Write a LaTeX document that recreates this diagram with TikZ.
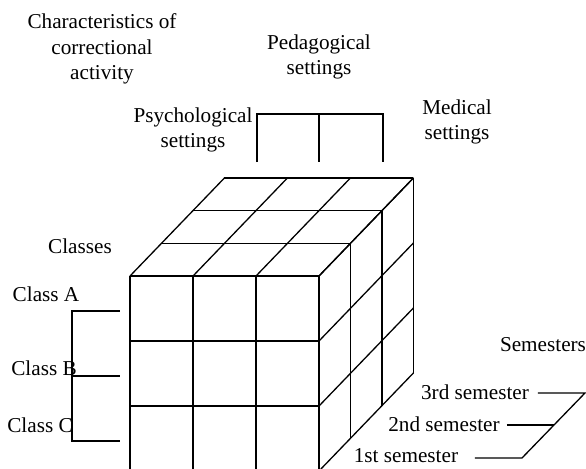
\documentclass[tikz,border=0pt]{standalone}
\usepackage{fontspec}
\setmainfont{Liberation Serif}

\begin{document}
\begin{tikzpicture}[x=0.5pt,y=-0.5pt,line width=0.65pt,
  lbl/.style={align=center,inner sep=0pt,font=\fontsize{10.6}{12.8}\selectfont}]
\useasboundingbox (0,0) rectangle (586,468);
\clip (0,0) rectangle (586,468);
% front face of the cube
\foreach \i in {0,...,3} {
  \draw (130+63*\i,276) -- (130+63*\i,471);
  \draw (130,276+65*\i) -- (319,276+65*\i);
}
% top face
\foreach \k in {0,...,3}
  \draw (130+31.5*\k,276-32.7*\k) -- (319+31.5*\k,276-32.7*\k);
\foreach \i in {0,...,3}
  \draw (130+63*\i,276) -- (224.5+63*\i,177.9);
% right face
\foreach \k in {0,...,3}
  \draw (319+31.5*\k,276-32.7*\k) -- (319+31.5*\k,471-32.7*\k);
\foreach \j in {0,...,3}
  \draw (319,276+65*\j) -- (413.5,177.9+65*\j);
% labels
\node[lbl] (title) at (102,49) {Characteristics of\\correctional\\activity};
\node[lbl] (ped) at (319,57) {Pedagogical\\settings};
\node[lbl] (psy) at (193,130) {Psychological\\settings};
\node[lbl] (med) at (457,122) {Medical\\settings};
\node[lbl] (classes) at (80,246) {Classes};
\node[lbl] (clA) at (46,294) {Class A};
\node[lbl] (clB) at (44,368) {Class B};
\node[lbl] (clC) at (40,425) {Class C};
\node[lbl] (sems) at (543,345) {Semesters};
\node[lbl] (sem3) at (475,392) {3rd semester};
\node[lbl] (sem2) at (444,424) {2nd semester};
\node[lbl] (sem1) at (406,456) {1st semester};
% brackets
\draw (257,162) -- (257,114) -- (383,114) -- (383,162);
\draw (319,114) -- (319,162);
\draw (120,311) -- (72,311) -- (72,441) -- (120,441);
\draw (72,376) -- (120,376);
\draw (538,393) -- (585,393) -- (522,458) -- (475,458);
\draw (507,425) -- (554,425);
\end{tikzpicture}
\end{document}
